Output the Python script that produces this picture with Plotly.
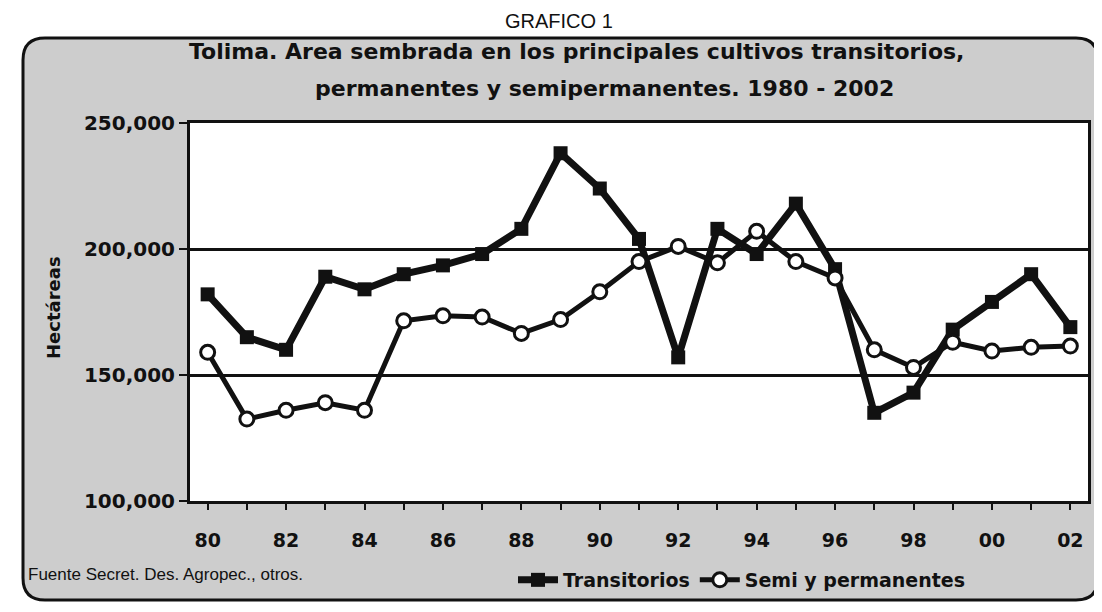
import plotly.graph_objects as go

# ---- data ----
years = list(range(1980, 2003))
transitorios = [182000, 165000, 160000, 189000, 184000, 190000, 193500, 198000,
                208000, 238000, 224000, 204000, 157000, 208000, 198000, 218000,
                192000, 135000, 143000, 168000, 179000, 190000, 169000]
semi_perm = [159000, 132500, 136000, 139000, 136000, 171500, 173500, 173000,
             166500, 172000, 183000, 195000, 201000, 194500, 207000, 195000,
             188500, 160000, 153000, 163000, 159500, 161000, 161500]
x_tick_vals = years
x_tick_text = ["80", "", "82", "", "84", "", "86", "", "88", "", "90", "",
               "92", "", "94", "", "96", "", "98", "", "00", "", "02"]
y_tick_vals = [100000, 150000, 200000, 250000]

# ---- layout geometry (pixels) ----
W, H = 1102, 612
L, R, T, B = 182, 22, 115, 119
PW, PH = W - L - R, H - T - B


def px(x):
    return (x - L) / PW


def py(y):
    return (H - B - y) / PH


BOLD = "DejaVu Sans"

fig = go.Figure()
fig.add_trace(go.Scatter(
    x=years, y=transitorios, name="Transitorios", mode="lines+markers",
    line=dict(color="#111111", width=7),
    marker=dict(symbol="square", size=14, color="#111111"),
))
fig.add_trace(go.Scatter(
    x=years, y=semi_perm, name="Semi y permanentes", mode="lines+markers",
    line=dict(color="#111111", width=5),
    marker=dict(symbol="circle", size=14, color="white",
                line=dict(color="#111111", width=3)),
))

# rounded grey frame
x0, x1 = px(15), px(1090)
yt, yb = py(30), py(592)
rx, ry = 22 / PW, 22 / PH
path = (f"M {x0+rx},{yt} L {x1-rx},{yt} Q {x1},{yt} {x1},{yt-ry} "
        f"L {x1},{yb+ry} Q {x1},{yb} {x1-rx},{yb} L {x0+rx},{yb} "
        f"Q {x0},{yb} {x0},{yb+ry} L {x0},{yt-ry} Q {x0},{yt} {x0+rx},{yt} Z")

fig.update_layout(
    width=W, height=H,
    margin=dict(l=L, r=R, t=T, b=B),
    paper_bgcolor="white",
    plot_bgcolor="white",
    showlegend=True,
    legend=dict(orientation="h", x=px(505), y=py(572), xanchor="left",
                yanchor="middle", bgcolor="rgba(0,0,0,0)",
                font=dict(family=BOLD, size=19, color="#111111", weight="bold"),
                itemwidth=40, tracegroupgap=0),
    shapes=[
        dict(type="path", path=path, xref="paper", yref="paper",
             fillcolor="#cdcdcd", line=dict(color="#111111", width=3),
             layer="below"),
        dict(type="rect", x0=0, x1=1, y0=0, y1=1, xref="paper", yref="paper",
             fillcolor="white", line=dict(width=0), layer="below"),
    ],
    annotations=[
        dict(text="GRAFICO 1", x=px(551), y=py(13), xref="paper", yref="paper",
             showarrow=False, font=dict(family="Liberation Sans", size=20,
                                        color="#111111"),
             xanchor="center", yanchor="middle"),
        dict(text="Tolima. Area sembrada en los principales cultivos transitorios,",
             x=px(568), y=py(44), xref="paper", yref="paper", showarrow=False,
             font=dict(family=BOLD, size=22, color="#111111", weight="bold"),
             xanchor="center", yanchor="middle"),
        dict(text="permanentes y semipermanentes. 1980 - 2002",
             x=px(596), y=py(81), xref="paper", yref="paper", showarrow=False,
             font=dict(family=BOLD, size=22, color="#111111", weight="bold"),
             xanchor="center", yanchor="middle"),
        dict(text="Hectáreas", x=px(45), y=py(300), xref="paper", yref="paper",
             showarrow=False, textangle=-90,
             font=dict(family=BOLD, size=18, color="#111111", weight="bold"),
             xanchor="center", yanchor="middle"),
        dict(text="Fuente Secret. Des. Agropec., otros.", x=px(18), y=py(566),
             xref="paper", yref="paper", showarrow=False,
             font=dict(family="Liberation Sans Narrow, Liberation Sans", size=17,
                       color="#111111"),
             xanchor="left", yanchor="middle"),
    ],
)

fig.update_xaxes(
    range=[1979.55, 2002.45], tickmode="array", tickvals=x_tick_vals,
    ticktext=x_tick_text, ticks="outside", ticklen=6, tickwidth=2,
    tickcolor="#111111", showline=True, linecolor="#111111", linewidth=3,
    mirror=True, showgrid=False, zeroline=False, ticklabelstandoff=14,
    tickfont=dict(family=BOLD, size=19, color="#111111", weight="bold"),
)
fig.update_yaxes(
    range=[100000, 250000], tickmode="array", tickvals=y_tick_vals,
    tickformat=",", ticks="outside", ticklen=8, tickwidth=2,
    tickcolor="#111111", showline=True, linecolor="#111111", linewidth=3,
    mirror=True, showgrid=True, gridcolor="#111111", gridwidth=2.5,
    zeroline=False,
    tickfont=dict(family=BOLD, size=20, color="#111111", weight="bold"),
)

fig.write_html("out.html")
